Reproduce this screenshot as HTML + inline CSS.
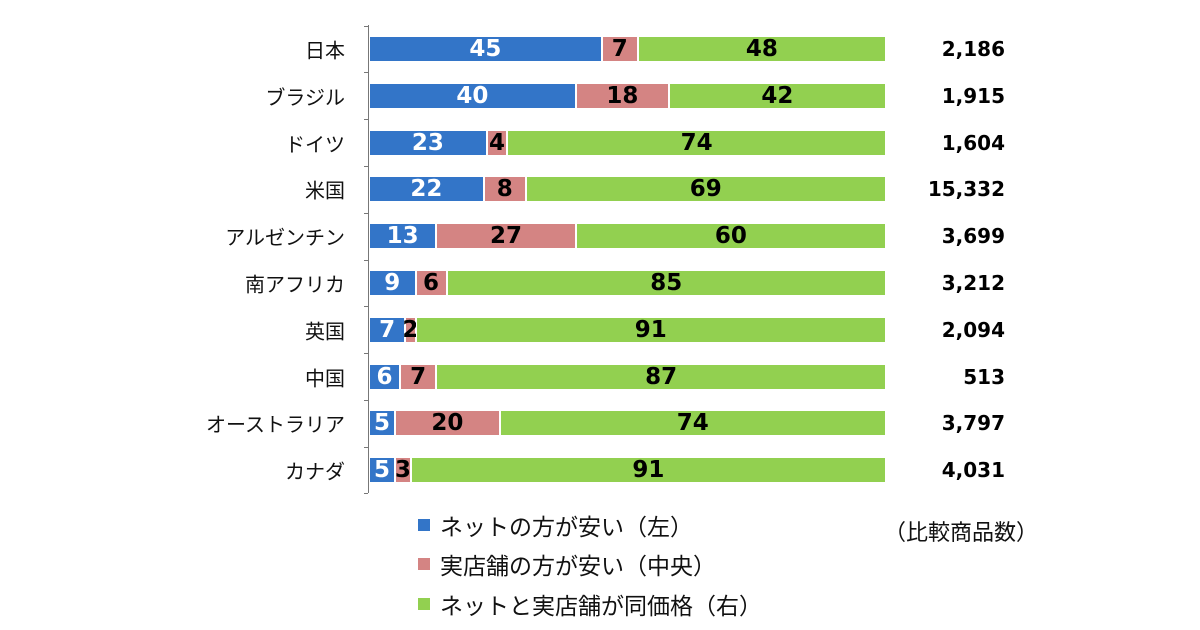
<!DOCTYPE html>
<html><head><meta charset="utf-8"><style>
body{margin:0;width:1200px;height:630px;background:#fff;overflow:hidden;position:relative;font-family:"Liberation Sans","Noto Sans CJK JP",sans-serif}
.cat{position:absolute;right:855px;font-size:20px;color:#111;white-space:nowrap;transform:translateY(-50%)}
.bar{position:absolute;left:369px;width:517px;height:26px;display:flex}
.seg{height:100%;box-sizing:border-box;border:1px solid #fff;display:flex;align-items:center;justify-content:center;font-family:"DejaVu Sans",sans-serif;font-weight:bold;font-size:23px;overflow:visible;white-space:nowrap}
.b{background:#3375c8;color:#fff}.p{background:#d48483;color:#000}.g{background:#92d050;color:#000}
.n{position:absolute;right:195px;font-family:"DejaVu Sans",sans-serif;font-weight:bold;font-size:20px;transform:translateY(-50%)}
.lg{position:absolute;left:418px;font-size:23px;color:#111;display:flex;align-items:center;transform:translateY(-50%)}
.lg i{display:inline-block;width:12px;height:12px;margin-right:10px}
</style></head><body>
<div style="position:absolute;left:368px;top:25px;width:1px;height:468px;background:#777"></div>
<div id="c"></div>
<div class="lg" style="top:525px"><i style="background:#3375c8"></i>ネットの方が安い（左）</div>
<div class="lg" style="top:564px"><i style="background:#d48483"></i>実店舗の方が安い（中央）</div>
<div class="lg" style="top:604px"><i style="background:#92d050"></i>ネットと実店舗が同価格（右）</div>
<div style="position:absolute;left:884px;top:515px;font-size:22px;color:#111">（比較商品数）</div>
<script>
var d=[["日本",45,7,48,"2,186"],["ブラジル",40,18,42,"1,915"],["ドイツ",23,4,74,"1,604"],["米国",22,8,69,"15,332"],["アルゼンチン",13,27,60,"3,699"],["南アフリカ",9,6,85,"3,212"],["英国",7,2,91,"2,094"],["中国",6,7,87,"513"],["オーストラリア",5,20,74,"3,797"],["カナダ",5,3,91,"4,031"]];
var h="";
for(var i=0;i<d.length;i++){var y=49+i*46.8,r=d[i],s=r[1]+r[2]+r[3];
h+='<div class="cat" style="top:'+y+'px">'+r[0]+'</div>';
h+='<div class="bar" style="top:'+(y-13)+'px">';
h+='<div class="seg b" style="width:'+(517*r[1]/s)+'px">'+r[1]+'</div>';
h+='<div class="seg p" style="width:'+(517*r[2]/s)+'px">'+r[2]+'</div>';
h+='<div class="seg g" style="width:'+(517*r[3]/s)+'px">'+r[3]+'</div></div>';
h+='<div class="n" style="top:'+y+'px">'+r[4]+'</div>';
h+='<div style="position:absolute;left:364px;width:4px;height:1px;background:#777;top:'+(25.6+i*46.8)+'px"></div>';}
h+='<div style="position:absolute;left:364px;width:4px;height:1px;background:#777;top:493px"></div>';
document.getElementById("c").innerHTML=h;
</script>
</body></html>
